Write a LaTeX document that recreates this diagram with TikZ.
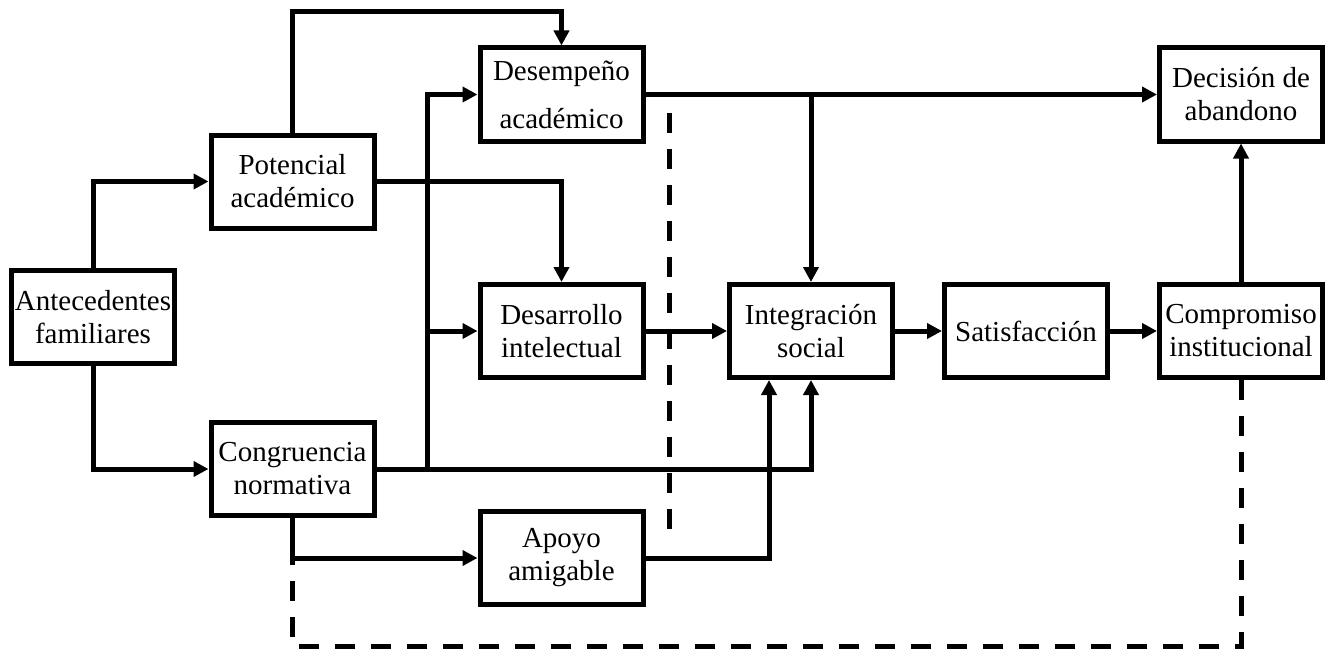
\documentclass[tikz,border=0pt]{standalone}
\usepackage{fontspec}
\setmainfont{Liberation Serif}
\usetikzlibrary{arrows.meta,
                positioning}

\begin{document}
\begin{tikzpicture}[
    x=1pt, y=-1pt,
    node distance = 47pt and 47pt,
      base/.style = {draw, line width=5pt, minimum width=163pt, minimum height=93pt,
                     inner sep=2pt, align=center, font=\fontsize{29}{33}\selectfont},
      link/.style = {line width=5pt, -{Triangle[length=15pt,width=15pt]}},
  feedback/.style = {line width=5pt, dash pattern=on 20pt off 16pt}
                    ]
  \useasboundingbox (0,0) rectangle (1332,650);
  \node [base] (ante)  at (93,317)     {Antecedentes\\familiares};
  \node [base] (pot)   at (292.5,181.5) {Potencial\\académico};
  \node [base] (cong)  at (292.5,469)  {Congruencia\\normativa};
  \node [base] (desem) at (561.5,94.5) {Desempeño\\[15pt]académico};
  \node [base] (desar) at (561.5,331)  {Desarrollo\\intelectual};
  \node [base] (apoyo) at (561.5,558)  {Apoyo\\amigable};
  \node [base] (integ) at (811,331)    {Integración\\social};
  \node [base, right=of integ]  (satis)  {Satisfacción};
  \node [base, right=of satis]  (compro) {Compromiso\\institucional};
  \node [base, above=138.5pt of compro] (decis) {Decisión de\\abandono};
    %
  \coordinate (over) at (0,12);
  \coordinate (bus)  at (427,0);
  \coordinate (low)  at (0,646);
  \coordinate (sepA) at (669,113);
  \coordinate (sepB) at (669,543);
    %---
  \draw [link] (ante.north) |- (pot.west);
  \draw [link] (ante.south) |- (cong.west);
  \draw [link] (pot.north) -- (pot.north |- over) -| (desem.north);
  \draw [link] (pot.east) -| (desar.north);
  \draw [link] (cong.east) -| (integ.south);
  \draw [link] (cong.east -| bus) |- (desem.west);
  \draw [link] (bus |- desar.west) -- (desar.west);
  \draw [link] (cong.south) |- (apoyo.west);
  \draw [link] (apoyo.east) -| ([xshift=-42pt]integ.south);
  \draw [link] (desem.east -| integ.north) -- (integ.north);
  \draw [link]
     (desem)  edge (decis)
     (desar)  edge (integ)
     (integ)  edge (satis)
     (satis)  edge (compro)
     (compro) edge (decis)
    ;
    %%%%%%
  \draw [feedback] (sepA) -- (sepB);
  \draw [feedback] (compro.south) |- (cong.south |- low) -- (cong.south);
\end{tikzpicture}
\end{document}
